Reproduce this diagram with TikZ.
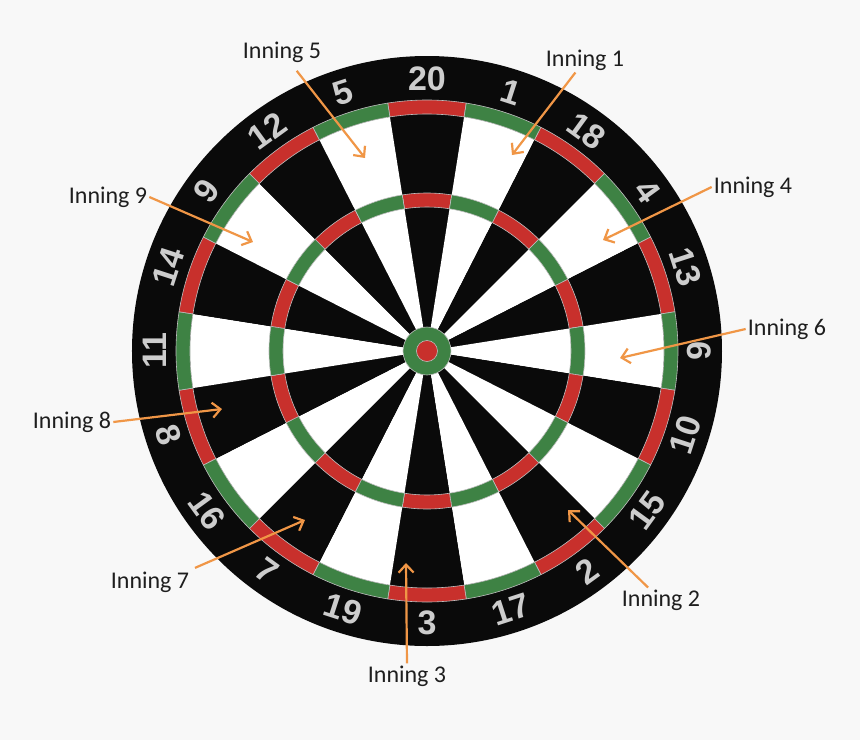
\documentclass[tikz,border=0pt]{standalone}
\usepackage{fontspec}
\setmainfont{Carlito}
\newfontfamily\numfont{Liberation Sans}
\usetikzlibrary{arrows.meta}

\definecolor{bg}{RGB}{248,248,248}
\definecolor{boardblack}{RGB}{10,10,10}
\definecolor{ringred}{RGB}{200,48,44}
\definecolor{ringgreen}{RGB}{62,130,68}
\definecolor{wire}{RGB}{190,190,190}
\definecolor{numgray}{RGB}{205,205,205}
\definecolor{arroworange}{RGB}{240,150,70}

% ring piece: colour, mid angle, inner radius, outer radius
\newcommand{\dartsector}[4]{%
    \filldraw[fill=#1, draw=wire, line width=.6pt] ({#2-9}:#3) arc [start angle={#2-9}, end angle={#2+9}, radius=#3]
        -- ({#2+9}:#4) arc [start angle={#2+9}, end angle={#2-9}, radius=#4] -- cycle;}

\tikzset{
    inning/.style = {font=\fontsize{24}{28}\selectfont, text={rgb,255:red,30;green,30;blue,30}, inner sep=2pt},
    pointer/.style = {draw=arroworange, line width=2.2pt, -{Straight Barb[length=8pt,width=15pt]}},
    numlabel/.style = {font=\numfont\bfseries\fontsize{34}{34}\selectfont, text=numgray, inner sep=0pt}
}

\begin{document}
\begin{tikzpicture}
    \fill[bg] (-427pt,-389pt) rectangle (433pt,351pt);
    \useasboundingbox (-427pt,-389pt) rectangle (433pt,351pt);
    \fill[boardblack] (0,0) circle [radius = 295pt];
    % segments, rings and numbers
    \foreach \num [count = \k from 0] in {20,1,18,4,13,6,10,15,2,17,3,19,7,16,8,11,14,9,12,5} {
        \pgfmathsetmacro\ang{90-18*\k}
        \pgfmathsetmacro\rot{ifthenelse(and(\k>5,\k<15),\ang+90,\ang-90)}
        \ifodd\k \def\base{white}\def\ring{ringgreen}\else \def\base{boardblack}\def\ring{ringred}\fi
        \fill[\base] (0,0) -- ({\ang-9}:237pt) arc [start angle = {\ang-9}, end angle = {\ang+9}, radius = 237pt] -- cycle;
        \dartsector{\ring}{\ang}{144pt}{158pt}
        \dartsector{\ring}{\ang}{237pt}{251pt}
        \node[numlabel, rotate = \rot] (n\num) at (\ang:272pt) {\num};
    }
    \filldraw[fill=ringgreen, draw=wire, line width=.6pt] (0,0) circle [radius = 24pt];
    \filldraw[fill=ringred, draw=wire, line width=.6pt] (0,0) coordinate (bull) circle [radius = 10.5pt];
    % innings
    \node[inning] (i1) at (158pt,291pt) {Inning 1};
    \node[inning] (i2) at (234pt,-249pt) {Inning 2};
    \node[inning] (i3) at (-20pt,-325pt) {Inning 3};
    \node[inning] (i4) at (326pt,164pt) {Inning 4};
    \node[inning] (i5) at (-145pt,299pt) {Inning 5};
    \node[inning] (i6) at (360pt,22pt) {Inning 6};
    \node[inning] (i7) at (-277pt,-231pt) {Inning 7};
    \node[inning] (i8) at (-355pt,-71pt) {Inning 8};
    \node[inning] (i9) at (-319pt,154pt) {Inning 9};
    \coordinate (t1) at (85pt,196pt);
    \coordinate (t2) at (141pt,-159pt);
    \coordinate (t3) at (-21pt,-212pt);
    \coordinate (t4) at (176pt,111pt);
    \coordinate (t5) at (-62pt,193pt);
    \coordinate (t6) at (193pt,-7pt);
    \coordinate (t7) at (-122pt,-169pt);
    \coordinate (t8) at (-205pt,-58pt);
    \coordinate (t9) at (-174pt,109pt);
    \draw[pointer] (i1) -- (t1);
    \draw[pointer] (i2) -- (t2);
    \draw[pointer] (i3.north) -- (t3);
    \draw[pointer] (i4.west) -- (t4);
    \draw[pointer, shorten <= 8pt] (i5) -- (t5);
    \draw[pointer] (i6.west) -- (t6);
    \draw[pointer, shorten <= 4pt] (i7.north east) -- (t7);
    \draw[pointer] (i8.east) -- (t8);
    \draw[pointer] (i9.east) -- (t9);
\end{tikzpicture}
\end{document}
